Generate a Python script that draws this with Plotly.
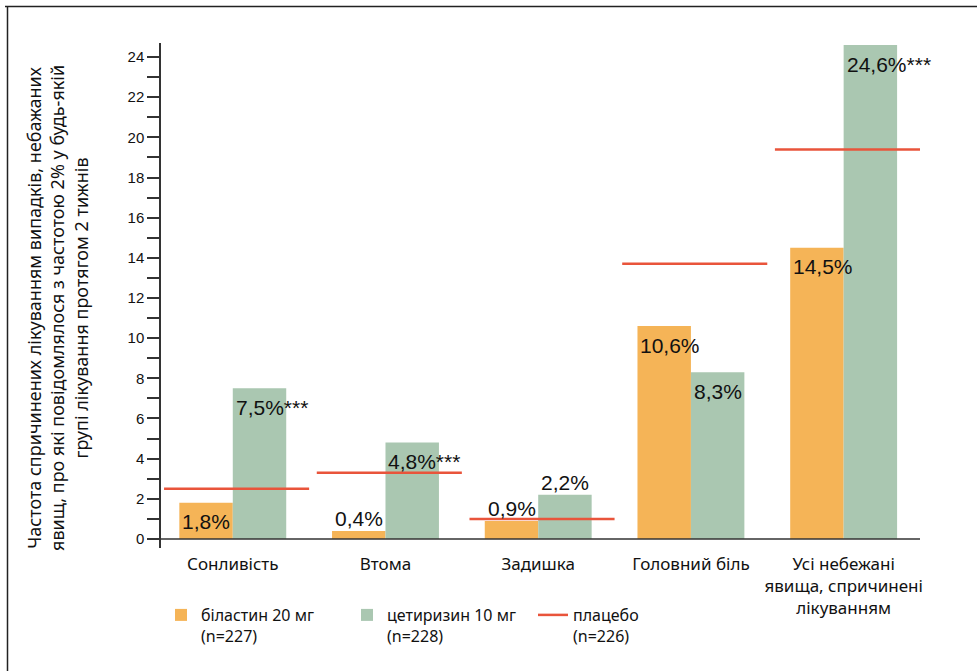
import plotly.graph_objects as go

categories = ["Сонливість", "Втома", "Задишка", "Головний біль",
              "Усі небежані<br>явища, спричинені<br>лікуванням"]
bilastine = [1.8, 0.4, 0.9, 10.6, 14.5]
cetirizine = [7.5, 4.8, 2.2, 8.3, 24.6]
placebo = [2.5, 3.3, 1.0, 13.7, 19.4]
cet_marks = ["***", "***", "", "", "***"]
bil_place = ["in", "out", "out", "in", "in"]
cet_place = ["in", "in", "out", "in", "in"]
y_ticks = list(range(0, 25, 2))

ORANGE = "#F5B457"
GREEN = "#AAC7B1"
RED = "#E9543B"
AXIS = "#333333"
GEO = "Noto Sans"
ARIAL = "Liberation Sans"

W, H = 977, 671
L, R, T, B = 161, 920, 43, 548
BW = 0.35

def px(xp):
    return (xp - L) / (R - L)

def py(yp):
    return (B - yp) / (B - T)

def fmt(v):
    return f"{v:.1f}".replace(".", ",") + "%"

xs = list(range(len(categories)))

fig = go.Figure()
fig.add_trace(go.Bar(x=xs, y=bilastine, width=BW, offset=-BW,
                     marker=dict(color=ORANGE, line=dict(width=0)),
                     name="біластин 20 мг<br>(n=227)"))
fig.add_trace(go.Bar(x=xs, y=cetirizine, width=BW, offset=0,
                     marker=dict(color=GREEN, line=dict(width=0)),
                     name="цетиризин 10 мг<br>(n=228)"))
lx, ly = [], []
for i, p in enumerate(placebo):
    lx += [i - 0.45, i + 0.5, None]
    ly += [p, p, None]
fig.add_trace(go.Scatter(x=lx, y=ly, mode="lines",
                         line=dict(color=RED, width=2.5),
                         name="плацебо<br>(n=226)"))

annotations = []
for i, v in enumerate(bilastine):
    annotations.append(dict(x=i - BW, y=v, xref="x", yref="y", text=fmt(v),
                            showarrow=False, xanchor="left", yanchor="middle",
                            xshift=1, yshift=-19 if bil_place[i] == "in" else 12,
                            font=dict(family=ARIAL, size=21, color="#111")))
for i, v in enumerate(cetirizine):
    t = fmt(v) + cet_marks[i]
    annotations.append(dict(x=i, y=v, xref="x", yref="y", text=t,
                            showarrow=False, xanchor="left", yanchor="middle",
                            xshift=1, yshift=-19 if cet_place[i] == "in" else 12,
                            font=dict(family=ARIAL, size=21, color="#111")))

annotations.append(dict(
    x=px(57), y=py(308), xref="paper", yref="paper", textangle=-90,
    xanchor="center", yanchor="middle", showarrow=False, align="center",
    text="Частота спричинених лікуванням випадків, небажаних<br>"
         "явищ, про які повідомлялося з частотою 2% у будь-якій<br>"
         "групі лікування протягом 2 тижнів",
    font=dict(family=GEO, size=18, color="#111")))

shapes = [
    dict(type="line", xref="paper", yref="y", x0=0, x1=1, y0=0, y1=0,
         line=dict(color=AXIS, width=1.5)),
    dict(type="line", xref="paper", yref="paper", x0=px(5), x1=px(985),
         y0=py(6.5), y1=py(6.5), line=dict(color="#222", width=1.5)),
    dict(type="line", xref="paper", yref="paper", x0=px(7.5), x1=px(7.5),
         y0=py(6.5), y1=py(680), line=dict(color="#222", width=1.5)),
]

fig.update_layout(
    width=W, height=H,
    margin=dict(l=L, r=W - R, t=T, b=H - B, pad=0),
    paper_bgcolor="white", plot_bgcolor="white",
    barmode="overlay",
    showlegend=True,
    legend=dict(orientation="h", x=px(161), y=py(598), xanchor="left",
                yanchor="top", valign="top", entrywidth=141,
                entrywidthmode="pixels", traceorder="normal",
                font=dict(family=GEO, size=16, color="#111"),
                bgcolor="rgba(0,0,0,0)"),
    xaxis=dict(range=[-0.47, 4.5], tickvals=xs, ticktext=categories,
               showgrid=False, zeroline=False, showline=False, ticks="",
               ticklabelstandoff=4,
               tickfont=dict(family=GEO, size=17, color="#111")),
    yaxis=dict(range=[-0.45, 24.7], tickvals=y_ticks, showgrid=False,
               zeroline=False, showline=True, linecolor=AXIS, linewidth=1.5,
               ticks="outside", ticklen=12, tickcolor=AXIS, tickwidth=1.5,
               minor=dict(tickvals=[v + 1 for v in y_ticks[:-1]], ticks="outside",
                          ticklen=12, tickcolor=AXIS, tickwidth=1.5, showgrid=False),
               tickfont=dict(family=ARIAL, size=15, color="#111")),
    annotations=annotations,
    shapes=shapes,
)

fig.write_html("out.html")
